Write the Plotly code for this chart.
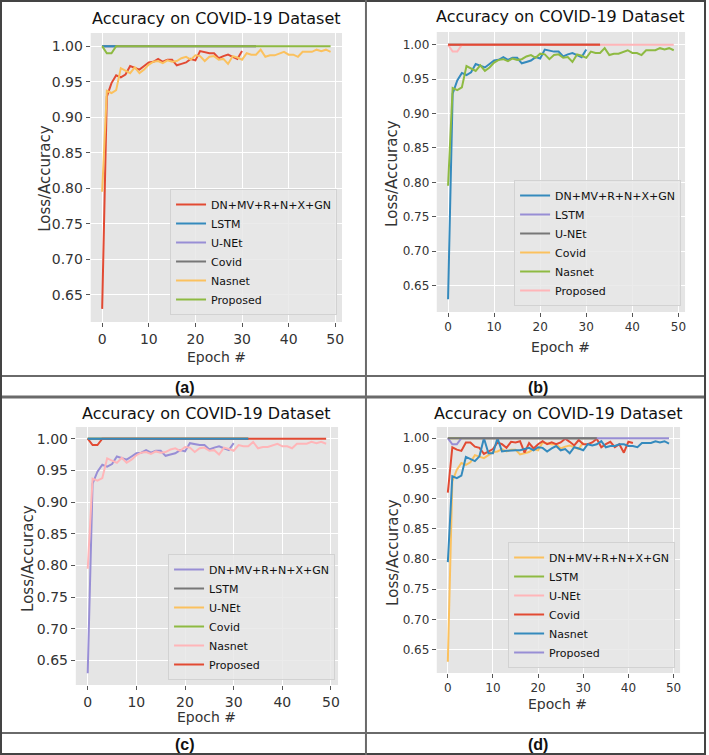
import plotly.graph_objects as go

W, H = 709, 755

# ---------------- data ----------------
series_names = ["DN+MV+R+N+X+GN", "LSTM", "U-NEt", "Covid", "Nasnet", "Proposed"]

dn_acc = [0.630, 0.929, 0.948, 0.959, 0.956, 0.960, 0.972, 0.970, 0.967, 0.972,
          0.977, 0.978, 0.982, 0.978, 0.981, 0.981, 0.973, 0.975, 0.977, 0.982,
          0.980, 0.993, 0.991, 0.990, 0.990, 0.983, 0.986, 0.988, 0.985, 0.982,
          0.993]

nasnet_acc = [0.795, 0.937, 0.934, 0.938, 0.969, 0.966, 0.962, 0.970, 0.962, 0.967,
              0.974, 0.978, 0.979, 0.976, 0.980, 0.978, 0.979, 0.983, 0.985, 0.981,
              0.987, 0.986, 0.979, 0.985, 0.986, 0.981, 0.982, 0.975, 0.986, 0.984,
              0.981, 0.990, 0.988, 0.988, 0.995, 0.985, 0.987, 0.987, 0.989, 0.992,
              0.988, 0.988, 0.985, 0.992, 0.992, 0.992, 0.995, 0.993, 0.995, 0.992]

nasnet_acc_d = [0.795, 0.937, 0.934, 0.938, 0.969, 0.966, 0.962, 0.970, 1.000, 0.975,
                0.975, 1.000, 0.978, 0.979, 0.980, 0.980, 0.980, 0.982, 0.984, 0.980,
                0.985, 0.984, 0.978, 0.983, 0.987, 0.980, 0.982, 0.975, 0.985, 0.983,
                0.980, 0.990, 0.988, 0.990, 0.995, 0.985, 0.987, 0.987, 0.990, 0.990,
                0.987, 0.987, 0.985, 0.992, 0.992, 0.992, 0.995, 0.993, 0.995, 0.991]

covid_acc_d = [0.910, 0.985, 0.981, 0.979, 0.993, 0.993, 0.986, 0.984, 0.974, 0.978,
               0.982, 0.993, 0.990, 0.984, 0.994, 0.993, 0.995, 0.976, 0.992, 0.983,
               0.990, 0.995, 0.990, 0.993, 0.990, 0.993, 0.999, 0.994, 0.988, 0.997,
               0.990, 0.990, 0.993, 0.999, 0.985, 0.990, 0.994, 0.985, 0.990, 0.976,
               0.994, 0.992]

proposed_acc = [1.000, 0.990, 0.990, 1.000, 1.000, 1.000, 1.000, 1.000, 1.000, 1.000,
                1.000, 1.000, 1.000, 1.000, 1.000, 1.000, 1.000, 1.000, 1.000, 1.000,
                1.000, 1.000, 1.000, 1.000, 1.000, 1.000, 1.000, 1.000, 1.000, 1.000,
                1.000, 1.000, 1.000, 1.000, 1.000, 1.000, 1.000, 1.000, 1.000, 1.000,
                1.000, 1.000, 1.000, 1.000, 1.000, 1.000, 1.000, 1.000, 1.000, 1.000]

plateau_acc = [1.000, 1.000, 1.000, 1.000, 1.000, 1.000, 1.000, 1.000, 1.000, 1.000,
               1.000, 1.000, 1.000, 1.000, 1.000, 1.000, 1.000, 1.000, 1.000, 1.000,
               1.000, 1.000, 1.000, 1.000, 1.000, 1.000, 1.000, 1.000, 1.000, 1.000,
               1.000, 1.000, 1.000, 1.000]

lstm_acc_a = [1.000, 1.000, 1.000, 1.000]

y_ticks = [0.65, 0.70, 0.75, 0.80, 0.85, 0.90, 0.95, 1.00]
x_ticks = [0, 10, 20, 30, 40, 50]
panel_labels = ["(a)", "(b)", "(c)", "(d)"]
title_text = "Accuracy on COVID-19 Dataset"

# ---------------- style ----------------
C = {"red": "#E24A33", "blue": "#348ABD", "purple": "#988ED5", "gray": "#777777",
     "yellow": "#FBC15E", "green": "#8EBA42", "pink": "#FFB5B8"}
FONT = "DejaVu Sans"


def ep(vals):
    return list(range(len(vals)))


def xd(a, b):
    return [a / W, b / W]


def yd(top, bottom):
    return [1 - bottom / H, 1 - top / H]


panels = [
    dict(dom=(91, 343, 33, 322), tick=14, leg=(338, 315), title=(217, 18), xl=(217, 357), yl=(45, 178),
         colors=dict(dn="red", lstm="blue", unet="purple", covid="gray", nas="yellow", prop="green"),
         extra=None, nas=nasnet_acc, covid=None, lstm=lstm_acc_a),
    dict(dom=(438, 687, 32, 312), tick=12, leg=(683, 306), title=(562, 17), xl=(562, 347), yl=(393, 173),
         colors=dict(dn="blue", lstm="purple", unet="gray", covid="yellow", nas="green", prop="pink"),
         extra="red", nas=nasnet_acc, covid=None, lstm=plateau_acc),
    dict(dom=(76, 339, 427, 685), tick=14, leg=(336, 680), title=(207, 413), xl=(207, 717), yl=(28, 558),
         colors=dict(dn="purple", lstm="gray", unet="yellow", covid="green", nas="pink", prop="red"),
         extra="blue", nas=nasnet_acc, covid=None, lstm=plateau_acc),
    dict(dom=(438, 682, 427, 673), tick=12, leg=(677, 668), title=(560, 413), xl=(559, 704), yl=(394, 552),
         colors=dict(dn="yellow", lstm="green", unet="pink", covid="red", nas="blue", prop="purple"),
         extra="gray", nas=nasnet_acc_d, covid=covid_acc_d, lstm=plateau_acc),
]

fig = go.Figure()
layout = dict(width=W, height=H, margin=dict(l=0, r=0, t=0, b=0),
              paper_bgcolor="white", plot_bgcolor="#E5E5E5",
              font=dict(family=FONT, color="#222222"), showlegend=True)
annotations = []

for i, p in enumerate(panels):
    k = "" if i == 0 else str(i + 1)
    xa, ya, lg = "x" + k, "y" + k, "legend" + k
    l, r, t, b = p["dom"]
    axis_common = dict(showgrid=True, gridcolor="white", gridwidth=1, zeroline=False, showline=False,
                       ticks="outside", ticklen=4, tickwidth=1, tickcolor="#555555",
                       tickfont=dict(family=FONT, size=p["tick"], color="#333333"))
    layout["xaxis" + k] = dict(domain=xd(l, r), range=[-2.45, 51.45], tickvals=x_ticks,
                               anchor=ya, **axis_common)
    layout["yaxis" + k] = dict(domain=yd(t, b), range=[0.6115, 1.0185], tickvals=y_ticks,
                               tickformat=".2f", anchor=xa, **axis_common)
    lx, ly = p["leg"]
    layout[lg] = dict(x=lx / W, y=1 - ly / H, xanchor="right", yanchor="bottom",
                      bgcolor="rgba(232,232,232,0.85)", bordercolor="#d2d2d2", borderwidth=1,
                      font=dict(family=FONT, size=11, color="#111111"), tracegroupgap=0)
    cl = p["colors"]

    def add(name, xs, ys, color, rank, show=True):
        fig.add_trace(go.Scatter(x=xs, y=ys, mode="lines", name=name, xaxis=xa, yaxis=ya,
                                 legend=lg, showlegend=show, legendrank=rank,
                                 line=dict(color=C[color], width=2)))

    # entries hidden under other lines are drawn first
    add(series_names[2], ep(plateau_acc), plateau_acc, cl["unet"], 3)
    if p["covid"] is None:
        add(series_names[3], ep(plateau_acc), plateau_acc, cl["covid"], 4)
    add(series_names[1], ep(p["lstm"]), p["lstm"], cl["lstm"], 2)
    add(series_names[0], ep(dn_acc), dn_acc, cl["dn"], 1)
    if p["covid"] is not None:
        add(series_names[3], ep(p["covid"]), p["covid"], cl["covid"], 4)
    add(series_names[4], ep(p["nas"]), p["nas"], cl["nas"], 5)
    add(series_names[5], ep(proposed_acc), proposed_acc, cl["prop"], 6)
    if p["extra"]:
        add("_", ep(plateau_acc), plateau_acc, p["extra"], 7, show=False)

    tx, ty = p["title"]
    annotations.append(dict(text=title_text, x=tx / W, y=1 - ty / H, xref="paper", yref="paper",
                            showarrow=False, xanchor="center", yanchor="middle",
                            font=dict(family=FONT, size=16, color="#111111")))
    ex, ey = p["xl"]
    annotations.append(dict(text="Epoch #", x=ex / W, y=1 - ey / H, xref="paper", yref="paper",
                            showarrow=False, xanchor="center", yanchor="middle",
                            font=dict(family=FONT, size=14, color="#333333")))
    yx, yy = p["yl"]
    annotations.append(dict(text="Loss/Accuracy", x=yx / W, y=1 - yy / H, xref="paper", yref="paper",
                            showarrow=False, xanchor="center", yanchor="middle", textangle=-90,
                            font=dict(family=FONT, size=15, color="#333333")))

# panel labels
label_pos = [(186, 387), (540, 387), (186, 744), (540, 744)]
for lab, (x, y) in zip(panel_labels, label_pos):
    annotations.append(dict(text="<b>" + lab + "</b>", x=x / W, y=1 - y / H, xref="paper", yref="paper",
                            showarrow=False, xanchor="center", yanchor="middle",
                            font=dict(family="Liberation Sans", size=16, color="#111111")))

# table lines
shapes = []


def hline(y, x0=1, x1=708, color="#6a6a6a", w=2):
    shapes.append(dict(type="line", xref="paper", yref="paper", x0=x0 / W, x1=x1 / W,
                       y0=1 - y / H, y1=1 - y / H, line=dict(color=color, width=w)))


def vline(x, y0=0, y1=755, color="#6a6a6a", w=2):
    shapes.append(dict(type="line", xref="paper", yref="paper", x0=x / W, x1=x / W,
                       y0=1 - y0 / H, y1=1 - y1 / H, line=dict(color=color, width=w)))


hline(1, color="#444444", w=2)
hline(376)
hline(397, w=3)
hline(733)
hline(754, color="#444444", w=2)
vline(1, color="#444444", w=2)
vline(367)
vline(707, color="#444444", w=2)

layout["annotations"] = annotations
layout["shapes"] = shapes
fig.update_layout(**layout)
fig.write_html("out.html", config={"displayModeBar": False},
               post_script="document.body.style.margin='0';document.body.style.overflow='hidden';"
                           "document.documentElement.style.overflow='hidden';")
